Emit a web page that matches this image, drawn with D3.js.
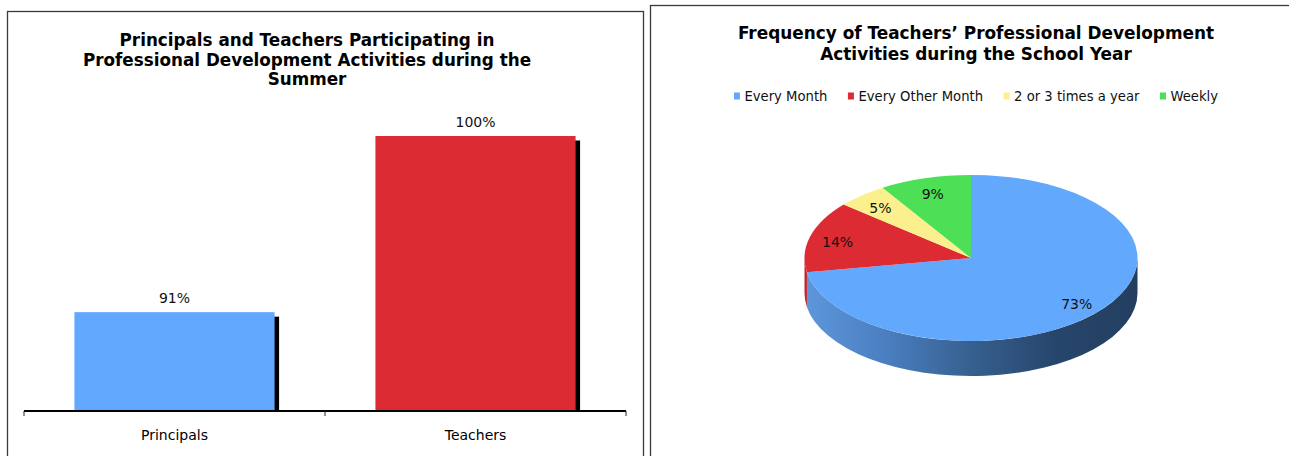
<!DOCTYPE html>
<html>
<head>
<meta charset="utf-8">
<script src="https://cdn.jsdelivr.net/npm/d3@7"></script>
<style>
  html, body { margin: 0; padding: 0; background: #fff; }
  svg { display: block; }
  text { font-family: "DejaVu Sans", Verdana, sans-serif; fill: #000; }
</style>
</head>
<body>
<svg id="chart" width="1289" height="456"></svg>
<script>
// Summer participation, percent
const barCategories = ["Principals", "Teachers"];
const barValues = [91, 100];
const barColors = ["#62a8ff", "#dc2b33"];
const barTitle = [
  "Principals and Teachers Participating in",
  "Professional Development Activities during the",
  "Summer"
];
const barAxisDomain = [86, 100];

// Frequency during the school year, percent of teachers
const pieCategories = ["Every Month", "Every Other Month", "2 or 3 times a year", "Weekly"];
const pieValues = [73, 14, 5, 9];
const pieColors = ["#62a8fd", "#dc2b33", "#fcf08e", "#4de057"];
const pieSideStops = [
  ["#5e97dc", "#4a7ec0", "#36608f", "#27466c", "#233e5f"],
  ["#c4252c", "#b02027", "#961b21", "#7e161b", "#6e1317"],
  ["#e0d47c", "#cfc372", "#b8ad65", "#a39959", "#938a50"],
  ["#44c94d", "#3cb444", "#339a3a", "#2c8532", "#27762c"]
];
const pieTitle = [
  "Frequency of Teachers’ Professional Development",
  "Activities during the School Year"
];

const svg = d3.select("#chart");
const defs = svg.append("defs");

// ---------- panel frames ----------
svg.append("rect").attr("x", 7.5).attr("y", 11.5).attr("width", 636).attr("height", 460)
  .attr("fill", "none").attr("stroke", "#3a3a3a").attr("stroke-width", 1.3);
svg.append("rect").attr("x", 650.5).attr("y", 5.5).attr("width", 660).attr("height", 470)
  .attr("fill", "none").attr("stroke", "#3a3a3a").attr("stroke-width", 1.3);

// ---------- bar chart ----------
const left = svg.append("g");
left.append("text")
  .attr("x", 307).attr("y", 46)
  .attr("text-anchor", "middle")
  .style("font-weight", "bold").style("font-size", "16.8px")
  .selectAll("tspan").data(barTitle).join("tspan")
  .attr("x", 307).attr("dy", (d, i) => i === 0 ? 0 : 19.7)
  .text(d => d);

const x = d3.scaleBand()
  .domain(barCategories)
  .range([24, 626])
  .paddingInner(0.335)
  .paddingOuter(0.1675);
const y = d3.scaleLinear().domain(barAxisDomain).range([410, 136]);
const base = y.range()[0];

const bars = left.append("g").selectAll("g").data(barCategories).join("g");
// drop shadow behind each bar
bars.append("rect")
  .attr("x", d => x(d) + 4.5)
  .attr("y", (d, i) => y(barValues[i]) + 4.5)
  .attr("width", x.bandwidth())
  .attr("height", (d, i) => base - y(barValues[i]) - 2.5)
  .attr("fill", "#000");
bars.append("rect")
  .attr("x", d => x(d))
  .attr("y", (d, i) => y(barValues[i]))
  .attr("width", x.bandwidth())
  .attr("height", (d, i) => base - y(barValues[i]))
  .attr("fill", (d, i) => barColors[i]);
bars.append("text")
  .attr("x", d => x(d) + x.bandwidth() / 2)
  .attr("y", (d, i) => y(barValues[i]) - 9)
  .attr("text-anchor", "middle")
  .style("font-size", "14px").style("fill", "#111")
  .text((d, i) => barValues[i] + "%");

// category axis
const axis = left.append("g").attr("transform", `translate(0,${base})`)
  .call(d3.axisBottom(x).tickSize(0).tickPadding(20));
axis.select(".domain").attr("stroke", "#000").attr("stroke-width", 2)
  .attr("d", `M${x.range()[0]},1H${x.range()[1]}`);
axis.selectAll(".tick text")
  .style("font-family", "'DejaVu Sans', Verdana, sans-serif")
  .style("font-size", "14px").attr("fill", "#111");
const boundaries = d3.range(barCategories.length + 1).map(i => x.range()[0] + i * x.step());
axis.selectAll(".bound").data(boundaries).join("line")
  .attr("class", "bound")
  .attr("x1", d => d).attr("x2", d => d)
  .attr("y1", 1).attr("y2", 6)
  .attr("stroke", "#222").attr("stroke-width", 1);

// ---------- 3-D pie ----------
const right = svg.append("g");
const pcx = 976;
right.append("text")
  .attr("x", pcx).attr("y", 39)
  .attr("text-anchor", "middle")
  .style("font-weight", "bold").style("font-size", "16.9px")
  .selectAll("tspan").data(pieTitle).join("tspan")
  .attr("x", pcx).attr("dy", (d, i) => i === 0 ? 0 : 21)
  .text(d => d);

// legend, laid out from measured text widths
const legend = right.append("g");
let lx = 0;
pieCategories.forEach((c, i) => {
  const g = legend.append("g").attr("transform", `translate(${lx},0)`);
  g.append("rect").attr("x", 0).attr("y", 92.5).attr("width", 6).attr("height", 7)
    .attr("fill", pieColors[i]);
  const t = g.append("text").attr("x", 10.5).attr("y", 100.5)
    .style("font-size", "13.2px").style("fill", "#111").text(c);
  lx += 10.5 + t.node().getComputedTextLength() + 20.5;
});
const legendWidth = lx - 20.5;
legend.attr("transform", `translate(${pcx - legendWidth / 2},0)`);

const cx = 971, cy = 258, rx = 166.5, ry = 83, depth = 35;
const arcs = d3.pie().sort(null).value(d => d)(pieValues);
const sy = ry / rx;
const D = depth / sy;

const pieG = right.append("g").attr("transform", `translate(${cx},${cy}) scale(1,${sy})`);

pieSideStops.forEach((stops, i) => {
  const gr = defs.append("linearGradient").attr("id", "side" + i)
    .attr("gradientUnits", "userSpaceOnUse")
    .attr("x1", -rx).attr("x2", rx).attr("y1", 0).attr("y2", 0);
  gr.selectAll("stop").data(stops).join("stop")
    .attr("offset", (d, k) => k / (stops.length - 1))
    .attr("stop-color", d => d);
});

// visible outer wall: lower half of the ellipse
const sidePath = a => {
  const s0 = Math.max(a.startAngle, Math.PI / 2);
  const s1 = Math.min(a.endAngle, 3 * Math.PI / 2);
  if (s1 <= s0) return null;
  const b0 = s0 - Math.PI / 2, b1 = s1 - Math.PI / 2;
  const p = d3.path();
  p.moveTo(rx * Math.cos(b0), rx * Math.sin(b0));
  p.arc(0, 0, rx, b0, b1);
  p.lineTo(rx * Math.cos(b1), rx * Math.sin(b1) + D);
  p.arc(0, D, rx, b1, b0, true);
  p.closePath();
  return p.toString();
};
pieG.selectAll("path.side").data(arcs.filter(a => sidePath(a))).join("path")
  .attr("class", "side")
  .attr("d", sidePath)
  .attr("fill", a => `url(#side${a.index})`);

const arcGen = d3.arc().innerRadius(0).outerRadius(rx);
pieG.selectAll("path.top").data(arcs).join("path")
  .attr("class", "top")
  .attr("d", arcGen)
  .attr("fill", a => pieColors[a.index]);

// percentage labels on the top face
const k = 0.83;
right.selectAll("text.plabel").data(arcs).join("text")
  .attr("class", "plabel")
  .attr("x", a => cx + k * rx * Math.sin((a.startAngle + a.endAngle) / 2))
  .attr("y", a => cy - k * ry * Math.cos((a.startAngle + a.endAngle) / 2) + 7)
  .attr("text-anchor", "middle")
  .style("font-size", "14px").style("fill", "#111")
  .text(a => a.data + "%");
</script>
</body>
</html>
